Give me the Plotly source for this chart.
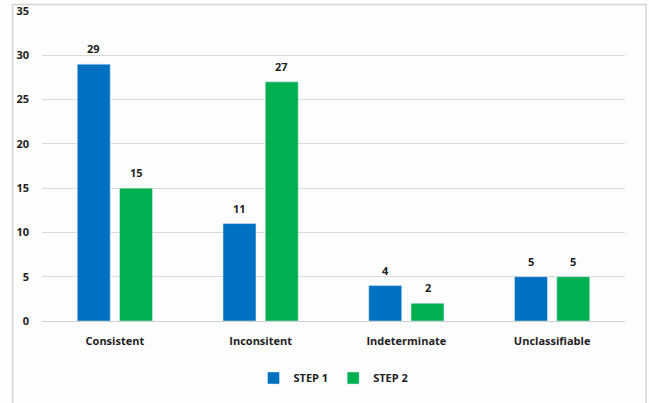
import plotly.graph_objects as go

categories = ["Consistent", "Inconsitent", "Indeterminate", "Unclassifiable"]
step1 = [29, 11, 4, 5]
step2 = [15, 27, 2, 5]
tick_vals = [0, 5, 10, 15, 20, 25, 30, 35]

font = "Open Sans"
bargap = 0.42
half_slot = (1 - bargap) / 4

fig = go.Figure()
fig.add_bar(name="STEP 1", x=categories, y=step1, marker_color="#0070c0")
fig.add_bar(name="STEP 2", x=categories, y=step2, marker_color="#00b050")

annotations = []
for i, (a, b) in enumerate(zip(step1, step2)):
    for off, v in ((-half_slot, a), (half_slot, b)):
        annotations.append(dict(x=i + off, y=v, xref="x", yref="y", text=str(v),
                                showarrow=False, yanchor="bottom", yshift=6,
                                font=dict(family=font, size=11, color="#222222", weight="bold")))

fig.update_layout(
    width=649, height=403,
    margin=dict(l=42, r=24, t=11, b=82, autoexpand=False),
    paper_bgcolor="#fdfdfd", plot_bgcolor="#fdfdfd",
    barmode="group", bargap=bargap, bargroupgap=0.22,
    font=dict(family=font, size=11, color="#222222"),
    showlegend=True,
    legend=dict(orientation="h", x=0.5, xanchor="center", xref="paper",
                y=0.062, yanchor="middle", yref="container",
                font=dict(family=font, size=11, color="#222222", weight="bold"),
                itemwidth=30, tracegroupgap=0, bgcolor="rgba(0,0,0,0)"),
    xaxis=dict(showgrid=False, ticks="", showline=True, linecolor="#d0d0d0", linewidth=1,
               ticklabelstandoff=10,
               tickfont=dict(family=font, size=11, color="#222222", weight="bold")),
    yaxis=dict(range=[0, 35], tickvals=tick_vals, showgrid=True, gridcolor="#dadada",
               gridwidth=1, zeroline=False, ticks="", ticklabelstandoff=12,
               tickfont=dict(family=font, size=11, color="#222222", weight="bold")),
    annotations=annotations,
    shapes=[dict(type="path", xref="paper", yref="paper",
                 path="M -0.0505 -0.32 L -0.0505 1.021 L 1.036 1.021 L 1.036 -0.32",
                 line=dict(color="#d4d4d4", width=1.5))],
)
fig.write_html("out.html")
